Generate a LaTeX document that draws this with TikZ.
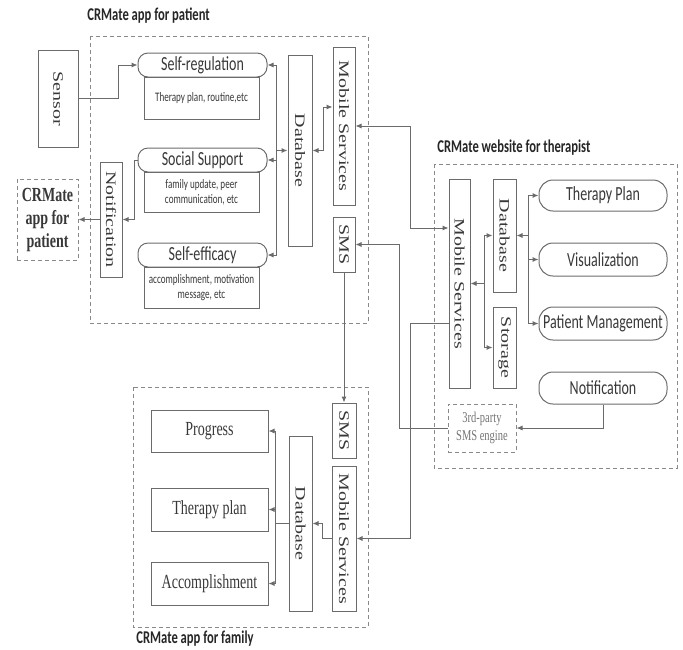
\documentclass[tikz,border=0pt]{standalone}
\usepackage{graphicx}
\usepackage{fontspec}
\setmainfont{Liberation Serif}
\newfontfamily\hsans[FakeStretch=0.7]{Carlito}
\newfontfamily\hserif[FakeStretch=0.7]{Liberation Serif}
\usetikzlibrary{arrows.meta}
\usetikzlibrary{calc}
\definecolor{linec}{gray}{0.42}
\definecolor{txtc}{gray}{0.22}
\tikzstyle{blk} = [draw=linec, line width=0.5pt, inner sep=0pt, text=txtc, font=\hserif\fontsize{10}{12}\selectfont]
\tikzstyle{vblk} = [blk, font=\fontsize{10}{12}\selectfont]
\tikzstyle{hdr} = [draw=linec, line width=0.5pt, rounded corners=5pt, inner sep=0pt, text=txtc, font=\hsans\fontsize{10}{12}\selectfont]
\tikzstyle{desc} = [draw=linec, line width=0.5pt, inner sep=0pt, align=center, text=txtc, font=\hsans\fontsize{6.5}{7.5}\selectfont]
\tikzstyle{dashbox} = [draw=linec!80, dash pattern=on 2pt off 1.5pt, line width=0.5pt]
\tikzstyle{title} = [anchor=west, inner sep=0pt, text=black!85, font=\hsans\bfseries\fontsize{9}{10}\selectfont]
\tikzstyle{arrow} = [draw=linec, line width=0.5pt, -{Latex[length=3pt,width=2.6pt]}]
\tikzstyle{darrow} = [draw=linec, line width=0.5pt, {Latex[length=3pt,width=2.6pt]}-{Latex[length=3pt,width=2.6pt]}]
\newcommand{\vtext}[1]{\rotatebox{-90}{\scalebox{1}[0.72]{#1}}}

\begin{document}
\begin{tikzpicture}[x=0.5pt,y=-0.5pt]

\useasboundingbox (0,0) rectangle (683,649);

% app for patient
\draw[dashbox] (90,36) rectangle (368,323);
\node[title] (ptitle) at (87,16) {CRMate app for patient};

\node[vblk, minimum width=20pt, minimum height=48.5pt] (sensor) at (58,98.5) {\vtext{Sensor}};
\node[hdr, minimum width=64.5pt, minimum height=12pt] (selfreg) at (202.5,65) {Self-regulation};
\node[desc, minimum width=57.5pt, minimum height=21pt] (selfregd) at (201.5,98) {Therapy plan, routine,etc};
\node[hdr, minimum width=64.5pt, minimum height=12pt] (social) at (202.5,160) {Social Support};
\node[desc, minimum width=57.5pt, minimum height=20pt] (sociald) at (201.5,192) {family update, peer\\communication, etc};
\node[hdr, minimum width=64.5pt, minimum height=12pt] (efficacy) at (202.5,255) {Self-efficacy};
\node[desc, minimum width=57.5pt, minimum height=20.5pt] (efficacyd) at (201.5,287.5) {accomplishment, motivation\\message, etc};
\node[vblk, minimum width=12pt, minimum height=95.5pt] (pdb) at (300,150.5) {\vtext{Database}};
\node[vblk, minimum width=11pt, minimum height=79pt] (pms) at (344,126) {\vtext{Mobile Services}};
\node[vblk, minimum width=11pt, minimum height=27.5pt] (psms) at (344,244.5) {\vtext{SMS}};
\node[vblk, minimum width=11pt, minimum height=57.5pt] (pnotif) at (111,219.5) {\vtext{Notification}};
\node[blk, dashbox, text=txtc, align=center, minimum width=30.5pt, minimum height=40.5pt,
  font=\hserif\bfseries\fontsize{10}{11.5}\selectfont] (papp) at (47.5,219.5) {CRMate\\app for\\patient};

\draw[arrow] (sensor.east) -- ++(40,0) |- (selfreg.west);
\draw[arrow] ([xshift=-5.5pt]pdb.west) -- (pdb.west);
\draw[arrow] ([xshift=-5.5pt]pdb.west) |- (selfreg.east);
\draw[arrow] ([xshift=-5.5pt]pdb.west) |- (social.east);
\draw[arrow] ([xshift=-5.5pt]pdb.west) |- (efficacy.east);
\draw[darrow] (pdb.east) -- ++(11,0) |- ([yshift=9.5pt]pms.west);
\draw[arrow] (social.west) -- ++(-3,0) |- (pnotif.east);
\draw[arrow] (pnotif.west) -- (papp.east);

% website for therapist
\draw[dashbox] (434,164) rectangle (677,468);
\node[title] (ttitle) at (437,148) {CRMate website for therapist};

\node[vblk, minimum width=10.5pt, minimum height=104.5pt] (tms) at (459.5,283.5) {\vtext{Mobile Services}};
\node[vblk, minimum width=11.5pt, minimum height=56.5pt] (tdb) at (504.5,235.5) {\vtext{Database}};
\node[vblk, minimum width=11.5pt, minimum height=40.5pt] (tstore) at (504.5,347.5) {\vtext{Storage}};
\node[hdr, rounded corners=7pt, minimum width=64pt, minimum height=15.5pt] (tplan) at (603,195.5) {Therapy Plan};
\node[hdr, rounded corners=7pt, minimum width=64pt, minimum height=16.5pt] (tvis) at (603,259.5) {Visualization};
\node[hdr, rounded corners=7pt, minimum width=64pt, minimum height=16.5pt] (tpm) at (603,323.5) {Patient Management};
\node[hdr, rounded corners=7pt, minimum width=64pt, minimum height=16pt] (tnotif) at (603,388) {Notification};
\node[blk, dashbox, text=txtc!70, align=center, minimum width=34pt, minimum height=24pt,
  font=\hserif\fontsize{7.5}{9}\selectfont] (engine) at (482,428) {3rd-party\\SMS engine};

\draw[arrow] ([xshift=7pt]tms.east) -- (tms.east);
\draw[arrow] ([xshift=7pt]tms.east) |- (tdb.west);
\draw[arrow] ([xshift=7pt]tms.east) |- (tstore.west);
\draw[arrow] ([xshift=6pt]tdb.east) -- (tdb.east);
\draw[arrow] ([xshift=6pt]tdb.east) |- (tplan.west);
\draw[arrow] ([xshift=6pt]tdb.east) |- (tvis.west);
\draw[arrow] ([xshift=6pt]tdb.east) |- (tpm.west);
\draw[arrow] (tnotif.south) |- (engine.east);

% app for family
\draw[dashbox] (133,387) rectangle (368,627);
\node[title] (ftitle) at (136,639) {CRMate app for family};

\node[blk, minimum width=58.5pt, minimum height=21pt] (fprog) at (209.5,431) {Progress};
\node[blk, minimum width=58.5pt, minimum height=21.5pt] (fplan) at (209.5,509.5) {Therapy plan};
\node[blk, minimum width=58.5pt, minimum height=21.5pt] (facc) at (209.5,583.5) {Accomplishment};
\node[vblk, minimum width=11.5pt, minimum height=87.5pt] (fdb) at (300.5,523.5) {\vtext{Database}};
\node[vblk, minimum width=12pt, minimum height=27.5pt] (fsms) at (344,430.5) {\vtext{SMS}};
\node[vblk, minimum width=12pt, minimum height=72.5pt] (fms) at (344,538.5) {\vtext{Mobile Services}};

\draw[linec, line width=0.5pt] ([xshift=-6.5pt]fdb.west) -- (fdb.west);
\draw[arrow] ([xshift=-6.5pt]fdb.west) |- (fprog.east);
\draw[arrow] ([xshift=-6.5pt]fdb.west) |- (fplan.east);
\draw[arrow] ([xshift=-6.5pt]fdb.west) |- (facc.east);
\draw[arrow] (fms.west) -- ++(-9,0) |- (fdb.east);

% links between the three parts
\draw[darrow] (pms.east) -- ++(55,0) |- ([yshift=27.75pt]tms.west);
\draw[arrow] (engine.west) -- ++(-48,0) |- (psms.east);
\draw[arrow] (psms.south) -- (fsms.north);
\draw[arrow] ([yshift=-19.75pt]tms.west) -- ++(-38,0) |- (fms.east);

\end{tikzpicture}
\end{document}
